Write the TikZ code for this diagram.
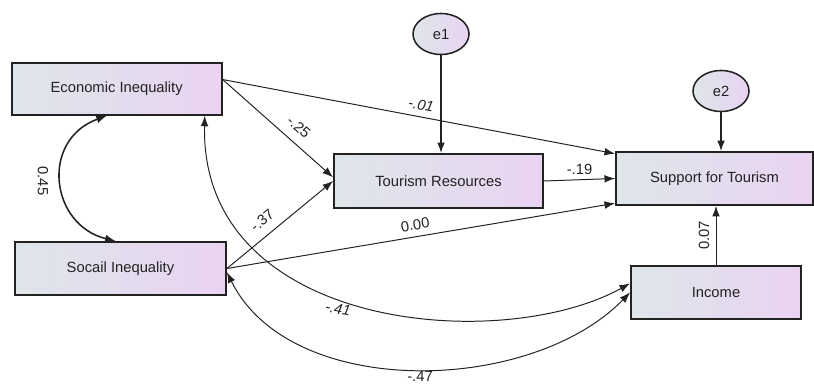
\documentclass[tikz,border=0pt]{standalone}
\usepackage{fontspec}
\setmainfont{Liberation Sans}
\usetikzlibrary{arrows.meta,shapes.geometric}
\definecolor{boxleft}{HTML}{DEE6EA}
\definecolor{boxright}{HTML}{EAD3F2}
\definecolor{ink}{HTML}{222222}

\begin{document}
\begin{tikzpicture}[x=0.025cm, y=-0.025cm,
	every node/.style={font=\fontsize{10.5}{12}\selectfont, text=ink},
	var/.style={rectangle, draw=ink, line width=1.3pt, left color=boxleft, right color=boxright, inner sep=0pt},
	err/.style={ellipse, draw=ink, line width=1.1pt, left color=boxleft, right color=boxright, minimum width=1.4cm, minimum height=1.025cm, inner sep=0pt},
	arr/.style={draw=ink, line width=0.7pt, -{Latex[length=7.5pt,width=5.5pt]}},
	cov/.style={draw=ink, line width=0.7pt, {Latex[length=7.5pt,width=5.5pt]}-{Latex[length=7.5pt,width=5.5pt]}},
	coef/.style={inner sep=1.5pt}]
			%%%%% START %%%%%
			\useasboundingbox (0, 0) rectangle (814, 385);
			
			% observed variables
			\node[var, minimum width=5.25cm, minimum height=1.3cm] (ei) at (116.7, 88.8) {Economic Inequality};
			\node[var, minimum width=5.275cm, minimum height=1.325cm] (si) at (120.5, 268.5) {Socail Inequality};
			\node[var, minimum width=5.225cm, minimum height=1.35cm] (tr) at (438.5, 181) {Tourism Resources};
			\node[var, minimum width=4.925cm, minimum height=1.325cm] (st) at (714.5, 178.5) {Support for Tourism};
			\node[var, minimum width=4.25cm, minimum height=1.325cm] (inc) at (716, 292.5) {Income};
			
			% error terms
			\node[err] (e1) at (441, 34) {e1};
			\node[err] (e2) at (721, 91) {e2};
			\draw[arr, line width=1pt] (e1.south) -- (e1.south |- tr.north);
			\draw[arr, line width=1pt] (e2.south) -- (e2.south |- st.north);
			
			% paths
			\draw[arr] (ei.5) -- (st.166) node[coef, sloped, above=3pt, pos=0.5] {\itshape -.01};
			\draw[arr] (ei.5) -- (tr.178) node[coef, sloped, above=5pt, pos=0.6] {-.25};
			\draw[arr] (si.east) -- (tr.west) node[coef, sloped, above=5pt, pos=0.42] {-.37};
			\draw[arr] (si.east) -- (st.194) node[coef, sloped, above=3pt, pos=0.49] {0.00};
			\draw[arr] (tr.east) -- (st.west) node[coef, above=2pt, pos=0.5] {-.19};
			\draw[arr] (inc.north) -- (inc.north |- st.south) node[coef, sloped, above=3pt, pos=0.5] {0.07};
			
			% covariances
			\draw[cov, line width=1.1pt] (ei.250) .. controls (40, 140) and (50, 225) .. (si.100);
			\node[coef, rotate=-90] (l45) at (43, 181) {0.45};
			\draw[cov] (ei.-17.5) .. controls (200, 330) and (500, 355) .. (inc.174);
			\node[coef, rotate=-10] (l41) at (338, 309) {\itshape -.41};
			\draw[cov] (si.-2) .. controls (290, 400) and (530, 395) .. (inc.west);
			\node[coef] (l47) at (420, 376) {-.47};
			
			%%%%% END %%%%%
\end{tikzpicture}
\end{document}
